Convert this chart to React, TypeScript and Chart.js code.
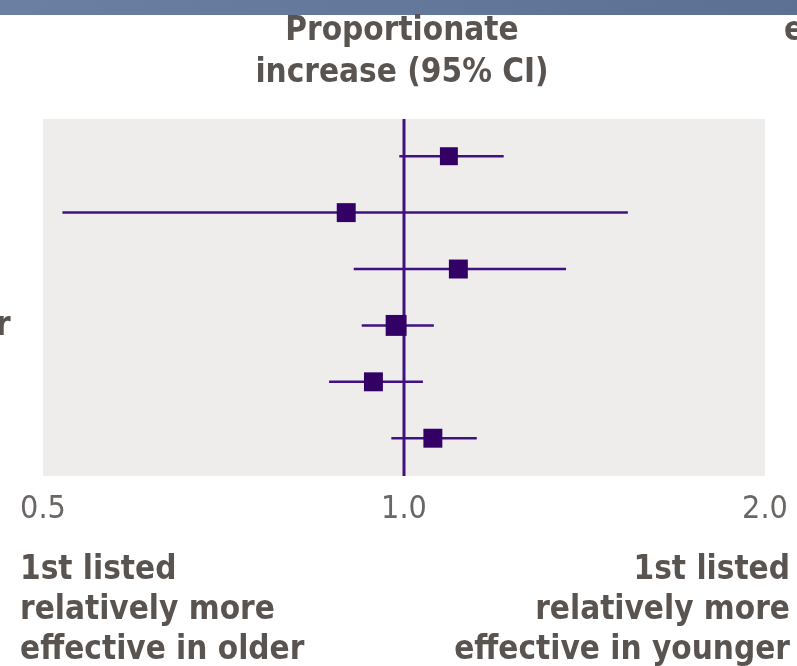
import React, { useEffect, useRef } from 'react';
import { Chart, registerables } from 'chart.js';

Chart.register(...registerables);

// ---- data ----
const rowIndex = [0, 1, 2, 3, 4, 5];
const estimates = [1.09, 0.895, 1.11, 0.985, 0.943, 1.057];
const lowerCI = [0.991, 0.519, 0.908, 0.922, 0.866, 0.976];
const upperCI = [1.211, 1.537, 1.365, 1.059, 1.037, 1.15];
const xTickValues = [0.5, 1.0, 2.0];
const headerLines = ['Proportionate', 'increase (95% CI)'];
const leftFooter = ['1st listed', 'relatively more', 'effective in older'];
const rightFooter = ['1st listed', 'relatively more', 'effective in younger'];

// ---- styling ----
const markerRadius = [12.7, 13.4, 13.4, 14.8, 13.4, 13.4];
const PURPLE = '#330066';
const LINE_PURPLE = '#3f1280';
const TEXT = '#5a5451';
const FONT = '"DejaVu Sans Condensed", "DejaVu Sans", sans-serif';

const bgPlugin = {
  id: 'plotBg',
  beforeDraw(chart: any) {
    const { ctx, chartArea } = chart;
    ctx.save();
    ctx.fillStyle = '#efedec';
    ctx.fillRect(chartArea.left, chartArea.top, chartArea.right - chartArea.left, chartArea.bottom - chartArea.top);
    ctx.restore();
  },
};

export default function App() {
  const ref = useRef<HTMLCanvasElement | null>(null);

  useEffect(() => {
    if (!ref.current) return;
    const ciSets = rowIndex.map((r, i) => ({
      type: 'line' as const,
      data: [
        { x: lowerCI[i], y: r },
        { x: upperCI[i], y: r },
      ],
      borderColor: LINE_PURPLE,
      borderWidth: 2.5,
      pointRadius: 0,
      order: 2,
    }));
    const chart = new Chart(ref.current, {
      type: 'scatter',
      data: {
        datasets: [
          {
            type: 'scatter',
            data: rowIndex.map((r, i) => ({ x: estimates[i], y: r })),
            pointStyle: 'rect',
            pointRadius: markerRadius,
            backgroundColor: PURPLE,
            borderWidth: 0,
            order: 0,
          } as any,
          {
            type: 'line',
            data: [
              { x: 1, y: -0.66 },
              { x: 1, y: 5.67 },
            ],
            borderColor: LINE_PURPLE,
            borderWidth: 3,
            pointRadius: 0,
            order: 1,
          },
          ...ciSets,
        ],
      },
      options: {
        animation: false,
        responsive: false,
        maintainAspectRatio: false,
        layout: { padding: { left: 43, right: 32, top: 119, bottom: 0 } },
        plugins: { legend: { display: false }, tooltip: { enabled: false } },
        scales: {
          x: {
            type: 'logarithmic',
            min: 0.5,
            max: 2,
            afterBuildTicks: (scale: any) => {
              scale.ticks = xTickValues.map((v) => ({ value: v }));
            },
            afterFit: (scale: any) => {
              scale.height = 190;
              scale.paddingLeft = 0;
              scale.paddingRight = 0;
            },
            grid: { display: false, drawTicks: false },
            border: { display: false },
            ticks: {
              autoSkip: false,
              maxRotation: 0,
              padding: 14,
              color: '#6a6664',
              font: { family: FONT, size: 32 },
              callback: (v: any) => Number(v).toFixed(1),
            },
          },
          y: {
            type: 'linear',
            min: -0.66,
            max: 5.67,
            reverse: true,
            display: false,
          },
        },
      },
      plugins: [bgPlugin],
    } as any);
    return () => chart.destroy();
  }, []);

  const textStyle: React.CSSProperties = {
    position: 'absolute',
    fontFamily: FONT,
    fontWeight: 'bold',
    fontSize: 33,
    color: TEXT,
    whiteSpace: 'nowrap',
  };

  return (
    <div style={{ position: 'fixed', left: 0, top: 0, width: 797, height: 666, background: '#fff', overflow: 'hidden' }}>
      <canvas ref={ref} width={797} height={666} style={{ display: 'block', position: 'absolute', left: 0, top: 0 }} />
      <div
        style={{
          position: 'absolute',
          left: 0,
          top: 0,
          width: 797,
          height: 15,
          background: 'linear-gradient(to right, #6b7fa2, #5c7094)',
        }}
      />
      <div style={{ ...textStyle, left: 152, width: 500, top: 8, lineHeight: '42px', textAlign: 'center' }}>
        {headerLines.map((l) => (
          <div key={l}>{l}</div>
        ))}
      </div>
      <div style={{ ...textStyle, left: 784, top: 8, lineHeight: '42px' }}>e</div>
      <div style={{ ...textStyle, left: -4, top: 304, lineHeight: '40px' }}>r</div>
      <div style={{ ...textStyle, left: 20, top: 548, lineHeight: '40px' }}>
        {leftFooter.map((l) => (
          <div key={l}>{l}</div>
        ))}
      </div>
      <div style={{ ...textStyle, left: 0, width: 790, top: 548, lineHeight: '40px', textAlign: 'right' }}>
        {rightFooter.map((l) => (
          <div key={l}>{l}</div>
        ))}
      </div>
    </div>
  );
}
